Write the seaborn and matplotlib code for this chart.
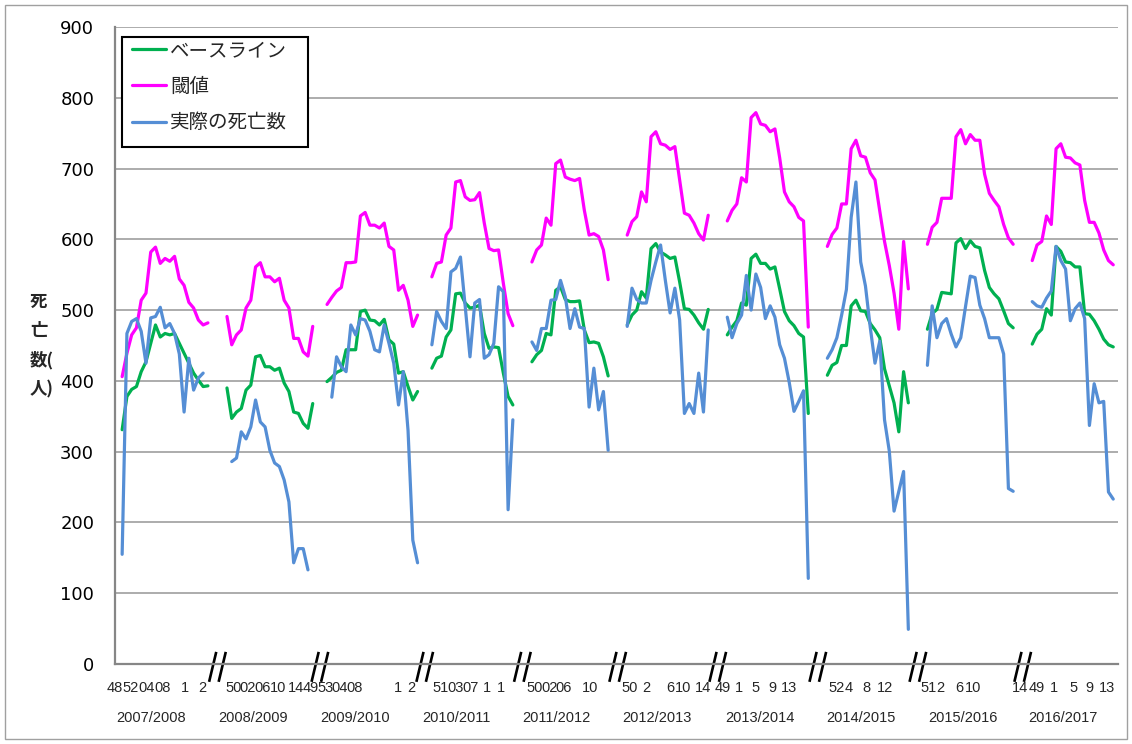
import matplotlib
matplotlib.use("Agg")
import matplotlib.pyplot as plt
import matplotlib.transforms as mtransforms
from matplotlib.lines import Line2D
from matplotlib.patches import Rectangle
import numpy as np
import pandas as pd
import seaborn as sns

# ---------------- data ----------------
seasons = ["2007/2008", "2008/2009", "2009/2010", "2010/2011", "2011/2012",
           "2012/2013", "2013/2014", "2014/2015", "2015/2016", "2016/2017"]
season_start = [0, 22, 43, 65, 86, 106, 127, 148, 169, 191]   # category index of first week
actual_lag = [0, 1, 1, 0, 0, 0, 0, 0, 0, 0]                  # actual series starts later

base_0708 = [331, 378, 388, 392, 413, 427, 453, 479, 462, 467, 465, 467, 453, 439, 425, 411, 401, 392, 393]
thr_0708 = [406, 439, 465, 475, 514, 524, 582, 589, 566, 573, 569, 576, 544, 535, 511, 503, 486, 479, 482]
act_0708 = [155, 467, 484, 488, 470, 425, 489, 491, 504, 475, 481, 467, 438, 356, 432, 387, 404, 411]

base_0809 = [390, 347, 356, 361, 387, 394, 434, 436, 420, 420, 415, 418, 397, 385, 356, 354, 340, 333, 368]
thr_0809 = [491, 451, 465, 472, 503, 514, 561, 567, 547, 547, 540, 545, 514, 503, 460, 460, 441, 435, 477]
act_0809 = [286, 291, 328, 318, 335, 373, 342, 335, 302, 284, 279, 260, 229, 143, 163, 163, 133]

base_0910 = [399, 405, 412, 415, 444, 444, 444, 498, 500, 486, 485, 479, 487, 458, 452, 411, 413, 392, 373, 385]
thr_0910 = [508, 518, 527, 532, 567, 567, 568, 633, 638, 620, 620, 616, 623, 590, 585, 528, 535, 514, 477, 493]
act_0910 = [377, 434, 420, 413, 479, 465, 488, 486, 470, 444, 441, 479, 453, 425, 366, 413, 330, 175, 143]

base_1011 = [418, 432, 435, 462, 472, 523, 524, 510, 503, 504, 507, 467, 446, 448, 447, 411, 378, 366]
thr_1011 = [547, 566, 568, 606, 616, 681, 683, 660, 655, 656, 666, 623, 587, 584, 585, 538, 495, 478]
act_1011 = [451, 498, 484, 474, 554, 559, 575, 505, 434, 510, 515, 432, 437, 453, 533, 526, 218, 345]

base_1112 = [427, 437, 443, 467, 465, 528, 533, 515, 512, 512, 513, 472, 454, 455, 453, 434, 407]
thr_1112 = [568, 585, 592, 630, 620, 707, 712, 688, 685, 683, 686, 641, 606, 608, 604, 585, 543]
act_1112 = [455, 443, 474, 474, 514, 515, 542, 519, 474, 502, 476, 474, 363, 418, 359, 385, 302]

base_1213 = [479, 493, 500, 526, 517, 587, 594, 582, 578, 573, 575, 540, 502, 501, 493, 482, 473, 501]
thr_1213 = [606, 625, 632, 667, 653, 745, 752, 735, 733, 727, 731, 684, 637, 634, 623, 608, 599, 634]
act_1213 = [477, 531, 515, 510, 510, 542, 568, 592, 542, 496, 531, 486, 354, 368, 354, 411, 356, 472]

base_1314 = [465, 476, 485, 510, 507, 573, 579, 566, 566, 558, 561, 530, 498, 485, 478, 467, 462, 354]
thr_1314 = [626, 641, 650, 687, 681, 772, 779, 763, 761, 752, 756, 715, 667, 653, 646, 631, 626, 476]
act_1314 = [490, 461, 481, 493, 549, 500, 551, 532, 488, 506, 490, 451, 432, 398, 357, 371, 386, 121]

base_1415 = [408, 422, 426, 450, 450, 506, 514, 499, 498, 481, 472, 461, 417, 393, 369, 328, 413, 369]
thr_1415 = [590, 607, 616, 650, 650, 728, 740, 718, 716, 694, 684, 640, 597, 563, 524, 473, 597, 530]
act_1415 = [432, 444, 461, 493, 529, 631, 681, 568, 534, 476, 425, 456, 345, 301, 216, 244, 272, 49]

base_1516 = [473, 495, 501, 525, 524, 523, 595, 601, 587, 598, 590, 588, 556, 532, 523, 516, 499, 481, 475]
thr_1516 = [593, 617, 624, 658, 658, 658, 745, 755, 735, 748, 740, 740, 692, 665, 655, 646, 621, 602, 593]
act_1516 = [422, 506, 461, 481, 488, 466, 448, 461, 505, 548, 546, 507, 488, 461, 461, 461, 438, 248, 244]

base_1617 = [452, 466, 473, 502, 493, 590, 583, 568, 567, 561, 561, 495, 494, 485, 473, 459, 451, 448]
thr_1617 = [570, 592, 597, 633, 621, 728, 735, 716, 715, 708, 705, 655, 624, 624, 609, 585, 570, 564]
act_1617 = [512, 506, 504, 517, 527, 590, 570, 558, 485, 502, 510, 488, 337, 396, 369, 371, 243, 233]

baseline = [base_0708, base_0809, base_0910, base_1011, base_1112,
            base_1213, base_1314, base_1415, base_1516, base_1617]
threshold = [thr_0708, thr_0809, thr_0910, thr_1011, thr_1112,
             thr_1213, thr_1314, thr_1415, thr_1516, thr_1617]
actual = [act_0708, act_0809, act_0910, act_1011, act_1112,
          act_1213, act_1314, act_1415, act_1516, act_1617]

series_names = ["ベースライン", "閾値", "実際の死亡数"]
series_colors = ["#00B050", "#FF00FF", "#558ED5"]

week_labels = ["48", "52", "04", "08", "1", "2",
               "50", "02", "06", "10", "14",
               "49", "53", "04", "08", "1", "2",
               "51", "03", "07", "1", "1",
               "50", "02", "06", "10",
               "50", "2", "6", "10", "14",
               "49", "1", "5", "9", "13",
               "52", "4", "8", "12",
               "51", "2", "6", "10", "14",
               "49", "1", "5", "9", "13"]
week_label_pos = [-1.5, 1.8, 5.1, 8.4, 13.1, 16.9,
                  23.3, 26.4, 29.5, 32.7, 36.5,
                  39.6, 42.6, 45.6, 48.7, 57.9, 60.6,
                  66.9, 70.0, 73.1, 76.5, 79.4,
                  86.5, 89.6, 92.7, 98.3,
                  106.5, 110.0, 115.0, 117.7, 121.9,
                  126.0, 129.4, 132.9, 136.5, 140.0,
                  150.0, 152.5, 156.3, 160.0,
                  169.2, 171.8, 175.6, 178.5, 188.4,
                  191.9, 195.6, 199.6, 203.1, 206.7]
season_label_pos = [6.0, 27.5, 48.8, 70.2, 91.2, 112.3, 133.8, 155.0, 176.5, 197.5]
n_categories = 209

# ---------------- long-form table ----------------
rows = []
for k, s in enumerate(seasons):
    for j, v in enumerate(baseline[k]):
        rows.append((season_start[k] + j, v, series_names[0], s))
    for j, v in enumerate(threshold[k]):
        rows.append((season_start[k] + j, v, series_names[1], s))
    for j, v in enumerate(actual[k]):
        rows.append((season_start[k] + actual_lag[k] + j, v, series_names[2], s))
df = pd.DataFrame(rows, columns=["idx", "value", "series", "season"])

# ---------------- figure ----------------
sns.set_style("white")
plt.rcParams["font.family"] = ["DejaVu Sans"]
cjk = ["Noto Sans CJK JP", "DejaVu Sans"]

W, H = 1132, 744
fig = plt.figure(figsize=(W / 100, H / 100), dpi=100)
ax = fig.add_axes([115 / W, 1 - 664 / H, (1118 - 115) / W, (664 - 27) / H])

sns.lineplot(data=df, x="idx", y="value", hue="series", units="season",
             estimator=None, sort=False, hue_order=series_names,
             palette=dict(zip(series_names, series_colors)),
             linewidth=2.3, legend=False, ax=ax)

ax.set_xlim(0, n_categories)
ax.set_ylim(0, 900)
ax.set_yticks(np.arange(0, 901, 100))
ax.yaxis.grid(True, color="#A6A6A6", linewidth=1.3)
ax.xaxis.grid(False)
ax.set_axisbelow(True)
ax.set_xlabel("")
ax.set_ylabel("")

for side in ["top", "right"]:
    ax.spines[side].set_visible(False)
for side in ["left", "bottom"]:
    ax.spines[side].set_color("#868686")
    ax.spines[side].set_linewidth(1.6)

ax.tick_params(axis="y", which="major", length=5, width=1.2, color="#868686",
               pad=10, labelsize=13, labelcolor="black")
ax.set_xticks(week_label_pos, week_labels)
ax.set_xticks(np.arange(0, n_categories + 1), minor=True)
ax.tick_params(axis="x", which="major", length=0, pad=12, labelsize=10.5)
ax.tick_params(axis="x", which="minor", length=4.5, width=0.9, color="#9A9A9A",
               direction="out")
for t in ax.get_xticklabels():
    t.set_fontfamily("Liberation Sans")

# season labels
trans = mtransforms.blended_transform_factory(ax.transData, fig.transFigure)
for s, p in zip(seasons, season_label_pos):
    ax.text(p, 1 - 718 / H, s, transform=trans, ha="center", va="center",
            fontsize=10.5, family="Liberation Sans")

# axis break marks between seasons
tb = mtransforms.blended_transform_factory(ax.transData, ax.transAxes)
for k in range(1, len(seasons)):
    prev_end = season_start[k - 1] + len(threshold[k - 1]) - 1
    c = (prev_end + season_start[k]) / 2
    for off in (-1.0, 1.0):
        ax.plot([c + off - 0.75, c + off + 0.75], [-0.028, 0.019], transform=tb,
                color="black", linewidth=1.9, clip_on=False, solid_capstyle="butt")

# y axis title (stacked vertical)
for txt, yp in zip(["死", "亡", "数(", "人)"], [302, 331, 360, 389]):
    fig.text(30 / W, 1 - yp / H, txt, ha="left", va="center", fontsize=12.5,
             fontweight="bold", family=cjk)

# legend (frame drawn separately to match the box size)
box = Rectangle((122 / W, 1 - 147 / H), (308 - 122) / W, (147 - 37) / H,
                transform=fig.transFigure, facecolor="white", edgecolor="black",
                linewidth=1.5, zorder=4, clip_on=False)
ax.add_artist(box)
handles = [Line2D([0], [0], color=c, linewidth=2.3) for c in series_colors]
leg = ax.legend(handles, series_names, loc="upper left",
                bbox_to_anchor=(132 / W, 1 - 40 / H), bbox_transform=fig.transFigure,
                borderaxespad=0, frameon=False, prop={"family": cjk, "size": 14},
                handlelength=1.75, handletextpad=0.2, labelspacing=0.78,
                borderpad=0)
leg.set_zorder(6)

# outer chart border
fig.patches.append(Rectangle((5 / W, 5 / H), 1 - 10 / W, 1 - 10 / H,
                             transform=fig.transFigure, fill=False,
                             edgecolor="#A0A0A0", linewidth=1.0))

fig.savefig("out.png", dpi=100, facecolor="white")
